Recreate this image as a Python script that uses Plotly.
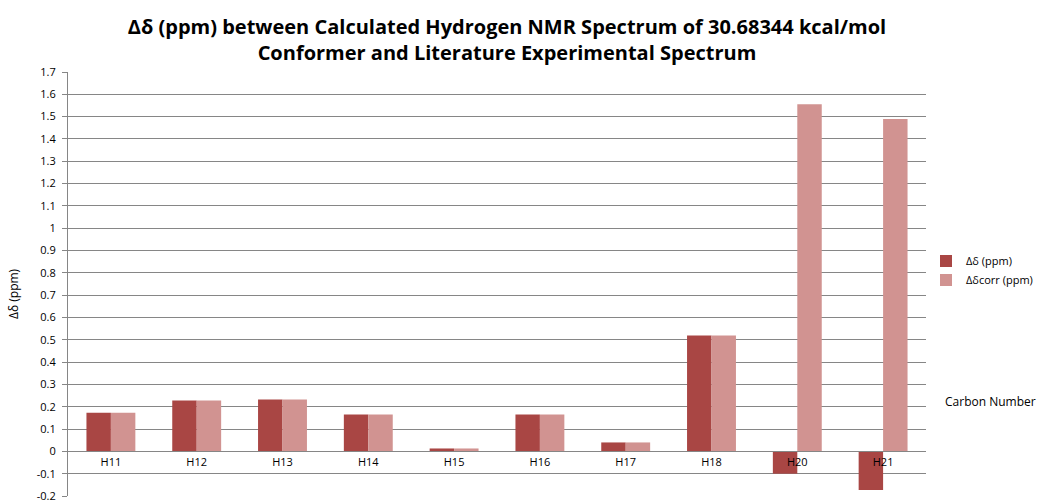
import plotly.graph_objects as go

categories = ["H11", "H12", "H13", "H14", "H15", "H16", "H17", "H18", "H20", "H21"]
delta = [0.173, 0.228, 0.232, 0.165, 0.013, 0.165, 0.040, 0.519, -0.100, -0.173]
delta_corr = [0.173, 0.228, 0.232, 0.165, 0.013, 0.165, 0.040, 0.519, 1.556, 1.489]
y_ticks = [round(-0.2 + 0.1 * i, 1) for i in range(20)]
y_tick_labels = [("%g" % v) for v in y_ticks]

fig = go.Figure()
fig.add_trace(go.Bar(name="Δδ (ppm)", x=categories, y=delta, marker_color="#A94644",
                     marker_line_width=0))
fig.add_trace(go.Bar(name="Δδcorr (ppm)", x=categories, y=delta_corr, marker_color="#D19391",
                     marker_line_width=0))

ymin, ymax = -0.2, 1.7
fig.update_layout(
    width=1041, height=504,
    paper_bgcolor="white", plot_bgcolor="white",
    margin=dict(l=68, r=115, t=72, b=8, autoexpand=False),
    barmode="group", bargap=0.43, bargroupgap=0,
    font=dict(family="Open Sans", size=11, color="black"),
    title=dict(
        text="<b>Δδ (ppm) between Calculated Hydrogen NMR Spectrum of 30.68344 kcal/mol<br>Conformer and Literature Experimental Spectrum</b>",
        x=0.487, xanchor="center", xref="container", y=0.932, yanchor="middle",
        font=dict(family="Open Sans", size=20, color="black"),
    ),
    legend=dict(x=1.0, xanchor="left", y=0.532, yanchor="middle",
                font=dict(size=11), bgcolor="rgba(0,0,0,0)", tracegroupgap=4,
                itemwidth=30),
    showlegend=True,
)
fig.update_yaxes(
    range=[ymin, ymax], tickvals=y_ticks, ticktext=y_tick_labels,
    showgrid=True, gridcolor="#868686", gridwidth=1,
    showline=True, linecolor="#868686", ticks="outside", ticklen=5, tickcolor="#868686",
    ticklabelstandoff=4, zeroline=False,
)
fig.update_xaxes(
    anchor="free", position=(0 - ymin) / (ymax - ymin),
    showline=True, linecolor="#868686", ticks="", showgrid=False,
    tickfont=dict(size=11),
)
fig.add_annotation(text="Δδ (ppm)", xref="paper", yref="paper", x=(13 - 68) / 858,
                   y=(496 - 294) / 424, textangle=-90, xanchor="center", yanchor="middle",
                   showarrow=False, font=dict(size=12))
fig.add_annotation(text="Carbon Number", xref="paper", yref="paper", x=1.02, y=0.222,
                   xanchor="left", yanchor="middle", showarrow=False, font=dict(size=12))
fig.write_html("out.html", config={"displayModeBar": False},
               post_script="document.body.style.margin='0';document.body.style.overflow='hidden';")
